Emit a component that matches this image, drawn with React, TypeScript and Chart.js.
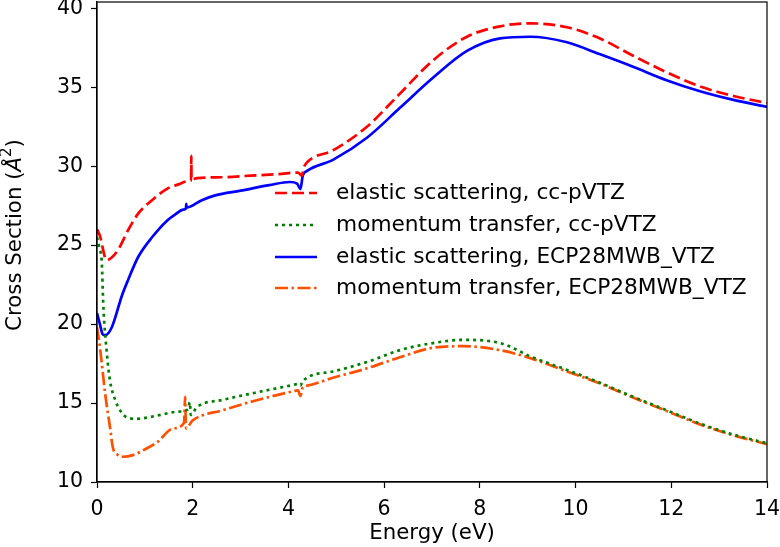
import React, { useEffect, useRef } from "react";
import { Chart, registerables } from "chart.js";

Chart.register(...registerables);

// Energy grids (eV) and cross sections (Å^2) for each curve
const elasticCcX = [0, 0.06, 0.2, 0.3, 0.44, 0.65, 0.86, 1.15, 1.48, 1.7, 1.9, 1.965, 1.97, 1.975, 2.09, 2.6, 3.2, 3.8, 4.2, 4.28, 4.32, 4.39, 4.93, 5.64, 6.33, 7.02, 7.73, 8.42, 9.05, 9.82, 10.5, 11.2, 11.9, 12.6, 13.3, 14];
const elasticCcY = [26.0, 25.6, 24.05, 24.2, 24.7, 25.95, 27.0, 27.85, 28.6, 28.85, 29.05, 29.1, 30.65, 29.15, 29.25, 29.3, 29.4, 29.5, 29.6, 29.4, 29.9, 30.25, 31.0, 32.5, 34.6, 36.7, 38.2, 38.86, 39.05, 38.8, 38.1, 37.0, 35.95, 35.05, 34.45, 34.0];

const momentumCcX = [0, 0.05, 0.1, 0.13, 0.2, 0.27, 0.38, 0.48, 0.62, 0.83, 1.25, 1.67, 1.9, 1.94, 1.96, 2.09, 2.63, 3.3, 4.03, 4.2, 4.25, 4.3, 4.93, 5.64, 6.33, 7.02, 7.65, 8.42, 9.1, 9.82, 10.5, 11.2, 11.9, 12.6, 13.3, 14];
const momentumCcY = [25.5, 24.8, 23.9, 21.3, 18.35, 16.45, 15.2, 14.55, 14.1, 14.0, 14.2, 14.45, 14.6, 15.05, 14.25, 14.75, 15.2, 15.65, 16.1, 16.2, 16.1, 16.4, 17.0, 17.6, 18.35, 18.8, 19.0, 18.8, 17.9, 17.1, 16.3, 15.4, 14.55, 13.7, 13.0, 12.45];

const elasticEcpX = [0, 0.06, 0.12, 0.17, 0.31, 0.52, 0.65, 0.86, 1.15, 1.48, 1.65, 1.8, 1.86, 1.865, 1.87, 2.19, 2.47, 3.0, 3.6, 4.03, 4.18, 4.25, 4.3, 4.39, 4.93, 5.64, 6.33, 7.02, 7.73, 8.42, 9.05, 9.82, 10.5, 11.2, 11.9, 12.6, 13.3, 14];
const elasticEcpY = [20.7, 20.0, 19.35, 19.3, 19.8, 21.8, 22.8, 24.25, 25.5, 26.6, 26.98, 27.25, 27.33, 27.62, 27.38, 27.85, 28.15, 28.45, 28.8, 29.0, 28.9, 28.55, 29.4, 29.7, 30.4, 31.8, 33.7, 35.6, 37.3, 38.1, 38.2, 37.85, 37.1, 36.3, 35.45, 34.75, 34.2, 33.75];

const momentumEcpX = [0, 0.05, 0.1, 0.17, 0.27, 0.33, 0.44, 0.54, 0.75, 0.96, 1.25, 1.6, 1.82, 1.84, 1.86, 2.0, 2.63, 3.3, 4.03, 4.2, 4.25, 4.3, 4.39, 4.93, 5.64, 6.33, 7.02, 7.65, 8.42, 9.1, 9.82, 10.5, 11.2, 11.9, 12.6, 13.3, 14];
const momentumEcpY = [19.8, 18.8, 17.5, 15.6, 13.5, 12.2, 11.7, 11.6, 11.7, 12.0, 12.5, 13.4, 13.75, 15.4, 13.4, 13.9, 14.55, 15.15, 15.7, 15.8, 15.45, 16.0, 16.1, 16.6, 17.2, 17.9, 18.5, 18.6, 18.35, 17.8, 17.0, 16.25, 15.35, 14.5, 13.65, 12.95, 12.4];

const seriesLabels = [
  "elastic scattering, cc-pVTZ",
  "momentum transfer, cc-pVTZ",
  "elastic scattering, ECP28MWB_VTZ",
  "momentum transfer, ECP28MWB_VTZ",
];

const xTicks = [0, 2, 4, 6, 8, 10, 12, 14];
const yTicks = [10, 15, 20, 25, 30, 35, 40];

const FONT = "'DejaVu Sans', sans-serif";

const pts = (xs: number[], ys: number[]) => xs.map((x, i) => ({ x, y: ys[i] }));

// Draws the spines on all four sides, the axis titles and the in-plot legend
const decorations = {
  id: "decorations",
  afterDatasetsDraw(chart: any) {
    const { ctx, chartArea } = chart;
    const { left, right, top, bottom } = chartArea;
    ctx.save();
    ctx.strokeStyle = "#000";
    ctx.lineWidth = 1.2;
    ctx.strokeRect(left, top, right - left, bottom - top);

    // legend
    const rowY = [193, 225, 257, 288];
    const hx0 = right - 492;
    const hx1 = right - 450;
    const tx = right - 431;
    chart.data.datasets.forEach((ds: any, i: number) => {
      const y = rowY[i];
      ctx.save();
      ctx.strokeStyle = ds.borderColor;
      ctx.lineWidth = ds.borderWidth;
      ctx.setLineDash(ds.borderDash || []);
      ctx.beginPath();
      ctx.moveTo(hx0, y);
      ctx.lineTo(hx1, y);
      ctx.stroke();
      ctx.restore();
      ctx.fillStyle = "#000";
      ctx.font = `21.7px ${FONT}`;
      ctx.textBaseline = "middle";
      ctx.textAlign = "left";
      ctx.fillText(ds.label, tx, y);
    });

    // x title
    ctx.fillStyle = "#000";
    ctx.font = `21.3px ${FONT}`;
    ctx.textAlign = "center";
    ctx.textBaseline = "middle";
    ctx.fillText("Energy (eV)", (left + right) / 2, 533);

    // y title, rotated, with italic Å and superscript 2
    ctx.translate(15, 235);
    ctx.rotate(-Math.PI / 2);
    const parts = [
      { t: "Cross Section (", f: `21.3px ${FONT}`, dy: 0 },
      { t: "Å", f: `italic 21.3px ${FONT}`, dy: 0 },
      { t: "2", f: `15px ${FONT}`, dy: -8 },
      { t: ")", f: `21.3px ${FONT}`, dy: 0 },
    ];
    let total = 0;
    parts.forEach((p) => {
      ctx.font = p.f;
      total += ctx.measureText(p.t).width;
    });
    let cx = -total / 2;
    ctx.textAlign = "left";
    parts.forEach((p) => {
      ctx.font = p.f;
      ctx.fillText(p.t, cx, p.dy);
      cx += ctx.measureText(p.t).width;
    });
    ctx.restore();
  },
};

export default function App() {
  const ref = useRef<HTMLCanvasElement>(null);

  useEffect(() => {
    if (!ref.current) return;
    const chart = new Chart(ref.current, {
      type: "line",
      data: {
        datasets: [
          {
            label: seriesLabels[0],
            data: pts(elasticCcX, elasticCcY),
            borderColor: "#ff0000",
            borderWidth: 2.7,
            borderDash: [12, 5],
          },
          {
            label: seriesLabels[1],
            data: pts(momentumCcX, momentumCcY),
            borderColor: "#008000",
            borderWidth: 2.7,
            borderDash: [3, 4],
          },
          {
            label: seriesLabels[2],
            data: pts(elasticEcpX, elasticEcpY),
            borderColor: "#0000ff",
            borderWidth: 2.7,
            borderDash: [],
          },
          {
            label: seriesLabels[3],
            data: pts(momentumEcpX, momentumEcpY),
            borderColor: "#ff5000",
            borderWidth: 2.7,
            borderDash: [13, 3.5, 2.5, 3.5],
          },
        ] as any,
      },
      options: {
        animation: false,
        responsive: false,
        devicePixelRatio: 1,
        layout: { padding: { top: 2, right: 13, left: 0, bottom: 0 } },
        elements: {
          point: { radius: 0 },
          line: { cubicInterpolationMode: "monotone", fill: false },
        },
        plugins: {
          legend: { display: false },
          tooltip: { enabled: false },
        },
        scales: {
          x: {
            type: "linear",
            min: 0,
            max: 14,
            grid: { drawOnChartArea: false, drawTicks: true, tickLength: 6, color: "#000", tickWidth: 1.2 },
            border: { display: true, color: "#000", width: 1.2 },
            ticks: { font: { family: FONT, size: 20.5 }, color: "#000", padding: 9, maxRotation: 0 },
            afterBuildTicks: (s: any) => {
              s.ticks = xTicks.map((v) => ({ value: v }));
            },
            afterFit: (s: any) => {
              s.height = 65;
              s.paddingLeft = 0;
              s.paddingRight = 0;
            },
          },
          y: {
            type: "linear",
            min: 10,
            max: 40.4,
            grid: { drawOnChartArea: false, drawTicks: true, tickLength: 6, color: "#000", tickWidth: 1.2 },
            border: { display: true, color: "#000", width: 1.2 },
            ticks: { font: { family: FONT, size: 20.5 }, color: "#000", padding: 8 },
            afterBuildTicks: (s: any) => {
              s.ticks = yTicks.map((v) => ({ value: v }));
            },
            afterFit: (s: any) => {
              s.width = 97;
              s.paddingTop = 0;
              s.paddingBottom = 0;
            },
          },
        },
      } as any,
      plugins: [decorations],
    });
    return () => chart.destroy();
  }, []);

  return (
    <div style={{ position: "fixed", left: 0, top: 0, width: 780, height: 547, background: "#fff" }}>
      <canvas ref={ref} width={780} height={547} />
    </div>
  );
}
